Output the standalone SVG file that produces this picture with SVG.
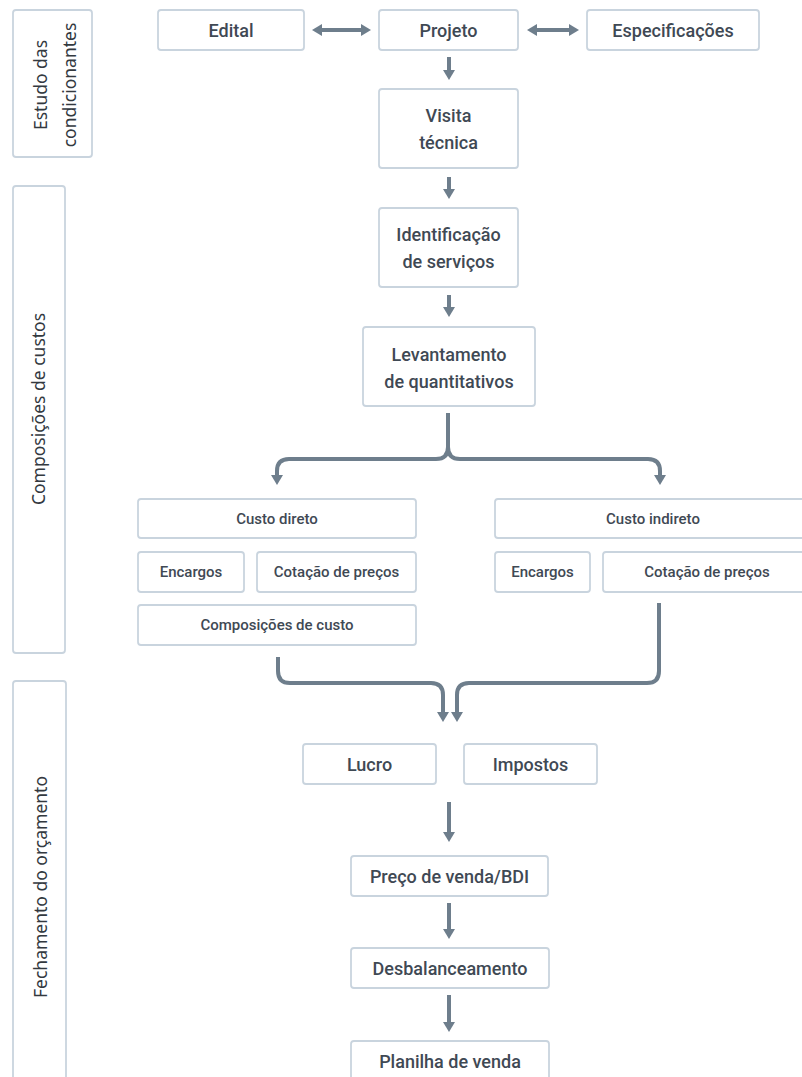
<svg xmlns="http://www.w3.org/2000/svg" width="802" height="1077" viewBox="0 0 802 1077">
<defs>
<style>
.box{fill:#fff;stroke:#c9d4de;stroke-width:1.8}
.t{font-family:Roboto,"Liberation Sans",sans-serif;font-weight:500;fill:#3f4954;text-anchor:middle;dominant-baseline:central}
.big{font-size:18px}
.sm{font-size:15px}
.lab{font-family:"Noto Sans","Liberation Sans",sans-serif;font-size:17.5px;fill:#33393f;text-anchor:middle}
.c{fill:none;stroke:#6e7e8c;stroke-width:4}
</style>
<marker id="ah" viewBox="0 -6 10 12" markerWidth="10" markerHeight="12" refX="1" refY="0" markerUnits="userSpaceOnUse" orient="auto-start-reverse">
<path d="M0,-6 L10,0 L0,6 z" fill="#6e7e8c"/>
</marker>
</defs>
<rect width="802" height="1077" fill="#fff"/>

<g id="lane-estudo">
<rect class="box" x="13" y="10" width="79" height="147" rx="3"/>
<text class="lab" transform="translate(47,85) rotate(-90)">Estudo das</text>
<text class="lab" transform="translate(76,85) rotate(-90)">condicionantes</text>
</g>
<g id="lane-composicoes">
<rect class="box" x="13" y="186" width="52" height="467" rx="3"/>
<text class="lab" transform="translate(45,409) rotate(-90)">Composições de custos</text>
</g>
<g id="lane-fechamento">
<rect class="box" x="13" y="681" width="53" height="420" rx="3"/>
<text class="lab" transform="translate(47,887) rotate(-90)">Fechamento do orçamento</text>
</g>

<g id="edital"><rect class="box" x="158" y="10" width="146" height="40" rx="3"/><text class="t big" x="231" y="30">Edital</text></g>
<g id="projeto"><rect class="box" x="379" y="10" width="139" height="40" rx="3"/><text class="t big" x="448.5" y="30">Projeto</text></g>
<g id="especificacoes"><rect class="box" x="587" y="10" width="172" height="40" rx="3"/><text class="t big" x="673" y="30">Especificações</text></g>
<g id="visita"><rect class="box" x="379" y="89" width="139" height="79" rx="3"/><text class="t big" x="448.5" y="115">Visita</text><text class="t big" x="448.5" y="142">técnica</text></g>
<g id="identificacao"><rect class="box" x="379" y="208" width="139" height="79" rx="3"/><text class="t big" x="448.5" y="234">Identificação</text><text class="t big" x="448.5" y="261">de serviços</text></g>
<g id="levantamento"><rect class="box" x="363" y="327" width="172" height="79" rx="3"/><text class="t big" x="449" y="354">Levantamento</text><text class="t big" x="449" y="381">de quantitativos</text></g>

<g id="custo-direto"><rect class="box" x="138" y="499" width="278" height="39" rx="3"/><text class="t sm" x="277" y="518.5">Custo direto</text></g>
<g id="encargos-d"><rect class="box" x="138" y="552" width="106" height="40" rx="3"/><text class="t sm" x="191" y="572">Encargos</text></g>
<g id="cotacao-d"><rect class="box" x="257" y="552" width="159" height="40" rx="3"/><text class="t sm" x="336.5" y="572">Cotação de preços</text></g>
<g id="composicoes-custo"><rect class="box" x="138" y="605" width="278" height="40" rx="3"/><text class="t sm" x="277" y="625">Composições de custo</text></g>

<g id="custo-indireto"><rect class="box" x="495" y="499" width="316" height="39" rx="3"/><text class="t sm" x="653" y="518.5">Custo indireto</text></g>
<g id="encargos-i"><rect class="box" x="495" y="552" width="95" height="40" rx="3"/><text class="t sm" x="542.5" y="572">Encargos</text></g>
<g id="cotacao-i"><rect class="box" x="603" y="552" width="208" height="40" rx="3"/><text class="t sm" x="707" y="572">Cotação de preços</text></g>

<g id="lucro"><rect class="box" x="303" y="744" width="133" height="40" rx="3"/><text class="t big" x="369.5" y="764">Lucro</text></g>
<g id="impostos"><rect class="box" x="464" y="744" width="133" height="40" rx="3"/><text class="t big" x="530.5" y="764">Impostos</text></g>
<g id="preco"><rect class="box" x="351" y="856" width="197" height="40" rx="3"/><text class="t big" x="449.5" y="876">Preço de venda/BDI</text></g>
<g id="desbalanceamento"><rect class="box" x="351" y="948" width="198" height="40" rx="3"/><text class="t big" x="450" y="968">Desbalanceamento</text></g>
<g id="planilha"><rect class="box" x="351" y="1041" width="198" height="40" rx="3"/><text class="t big" x="450" y="1061">Planilha de venda</text></g>

<g id="connectors">
<path class="c" d="M321,30 H362" marker-start="url(#ah)" marker-end="url(#ah)"/>
<path class="c" d="M536,30 H570" marker-start="url(#ah)" marker-end="url(#ah)"/>
<path class="c" d="M449,57 V71" marker-end="url(#ah)"/>
<path class="c" d="M449,177 V190" marker-end="url(#ah)"/>
<path class="c" d="M449,295 V308" marker-end="url(#ah)"/>
<path class="c" d="M448,413 V447 Q448,459 436,459 H289 Q277,459 277,471 V476" marker-end="url(#ah)"/>
<path class="c" d="M448,447 Q448,459 460,459 H648 Q660,459 660,471 V476" marker-end="url(#ah)"/>
<path class="c" d="M278,657 V671 Q278,683 290,683 H431 Q443,683 443,695 V713" marker-end="url(#ah)"/>
<path class="c" d="M659,603 V671 Q659,683 647,683 H469 Q457,683 457,695 V713" marker-end="url(#ah)"/>
<path class="c" d="M449,802 V833" marker-end="url(#ah)"/>
<path class="c" d="M449,903 V930" marker-end="url(#ah)"/>
<path class="c" d="M449,995 V1023" marker-end="url(#ah)"/>
</g>
</svg>
